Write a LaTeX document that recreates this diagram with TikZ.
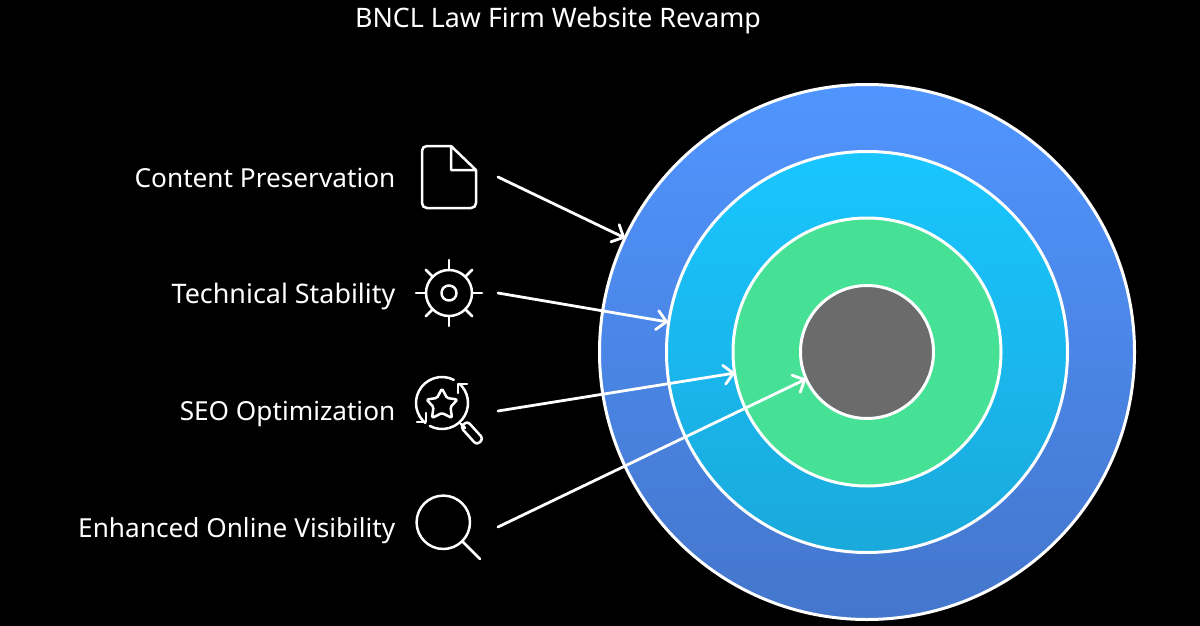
\documentclass[tikz,border=0pt]{standalone}
\usepackage{fontspec}
\setmainfont{Noto Sans}
\usetikzlibrary{arrows.meta,shapes.geometric}
\definecolor{ringA1}{HTML}{5095FF}
\definecolor{ringA2}{HTML}{4476CC}
\definecolor{ringB1}{HTML}{19C6FF}
\definecolor{ringB2}{HTML}{1AA9DB}
\definecolor{ringC}{HTML}{47E196}
\definecolor{ringD}{HTML}{6B6B6B}
\pgfdeclarearrow{
  name=VHead,
  setup code={%
    \pgfarrowssettipend{0pt}%
    \pgfarrowssetlineend{-1.5pt}%
    \pgfarrowssetbackend{-11pt}%
    \pgfarrowssetvisualbackend{-1.5pt}%
  },
  drawing code={%
    \pgfsetdash{}{0pt}%
    \pgfsetlinewidth{2.8pt}%
    \pgfsetroundcap\pgfsetroundjoin
    \pgfpathmoveto{\pgfqpoint{-11pt}{9.5pt}}%
    \pgfpathlineto{\pgfqpoint{-1.5pt}{0pt}}%
    \pgfpathlineto{\pgfqpoint{-11pt}{-9.5pt}}%
    \pgfusepathqstroke
  }
}
\tikzset{
  x=1pt,y=-1pt,
  ring/.style={circle,draw=white,line width=3pt,inner sep=0pt},
  lbl/.style={text=white,font=\fontsize{26.2}{30}\selectfont,anchor=mid east,inner sep=0pt},
  ttl/.style={text=white,font=\fontsize{26.8}{30}\selectfont,inner sep=0pt},
  conn/.style={draw=white,line width=2.8pt,line cap=round,-{VHead}},
  icon/.style={draw=white,line width=2.5pt,line cap=round,line join=round},
}
\begin{document}
\begin{tikzpicture}
\useasboundingbox[fill=black] (0,0) rectangle (1200,626);
% rings
\node[ring,minimum size=535pt,top color=ringA1,bottom color=ringA2] (r1) at (867,352) {};
\node[ring,minimum size=401pt,top color=ringB1,bottom color=ringB2] (r2) at (867,352) {};
\node[ring,minimum size=268pt,fill=ringC] (r3) at (867,352) {};
\node[ring,minimum size=133pt,fill=ringD] (r4) at (867,352) {};
% text
\node[ttl] (title) at (558,21) {BNCL Law Firm Website Revamp};
\node[lbl] (l1) at (395.5,185) {Content Preservation};
\node[lbl,font=\fontsize{26.9}{30}\selectfont] (l2) at (395.5,301) {Technical Stability};
\node[lbl] (l3) at (395.5,418) {SEO Optimization};
\node[lbl] (l4) at (395.5,535) {Enhanced Online Visibility};
% document icon
\draw[icon] (451,146) -- (427,146) .. controls (424,146) and (422,148) .. (422,151) -- (422,203)
  .. controls (422,206) and (424,208) .. (427,208) -- (471,208)
  .. controls (474,208) and (476,206) .. (476,203) -- (476,170) -- (451,146) -- (451,170) -- (476,170);
% gear icon
\draw[icon] (449,293) circle[radius=23];
\draw[icon] (449,293) circle[radius=7.5];
\foreach \a in {0,45,...,315}{
  \draw[icon] (449,293) ++(\a:23) -- ++(\a:10);
}
% SEO icon
\draw[icon] (442,403) ++(-63:26) arc[start angle=-63,end angle=-230,radius=26];
\draw[icon] (442,403) ++(-242:26) arc[start angle=-242,end angle=-408,radius=26];
\draw[icon] (417,422) -- (426,422) -- (426,413);
\draw[icon] (458,384) -- (467,384) (458,384) -- (458,393);
\draw[icon,rounded corners=1.5pt] (442,388.5) -- (447,398) -- (457.5,399.5) -- (450.5,407) -- (452,418) -- (442,413) -- (432,418) -- (433.5,407) -- (426.5,399.5) -- (437,398) -- cycle;
\draw[icon] (461,424) -- (465,428);
\draw[icon,rotate around={-48:(472,433)},rounded corners=3.5pt] (460,428.5) rectangle (484,437.5);
% magnifier icon
\draw[icon] (443.3,522.3) circle[radius=26.7];
\draw[icon] (462.5,541.5) -- (480,559);
% connector ends
\coordinate (s1) at (498,177);
\coordinate (s2) at (498,293);
\coordinate (s3) at (498,411);
\coordinate (s4) at (498,527);
\coordinate (e1) at (625,238);
\coordinate (e2) at (668,322);
\coordinate (e3) at (735,373);
\coordinate (e4) at (806,379);
\draw[conn] (s1) -- (e1);
\draw[conn] (s2) -- (e2);
\draw[conn] (s3) -- (e3);
\draw[conn] (s4) -- (e4);
\end{tikzpicture}
\end{document}
